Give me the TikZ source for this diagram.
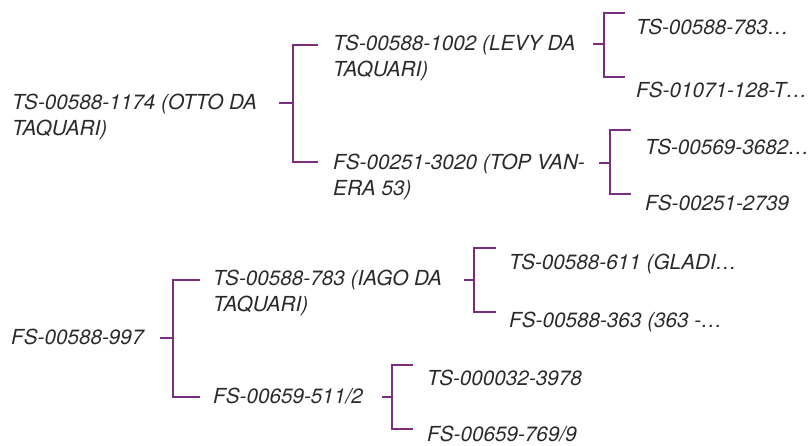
\documentclass[tikz,border=0pt]{standalone}
\usepackage{fontspec}
\setmainfont{TeX Gyre Heros}
\definecolor{brk}{HTML}{7B2D80}
\definecolor{txt}{HTML}{2A2A2A}
\tikzset{
  lbl/.style={font=\fontsize{20.7}{26}\selectfont\itshape, text=txt, inner sep=0pt, anchor=base west, align=left},
  brkline/.style={draw=brk, line width=2.7pt, line cap=butt, line join=miter}
}
\begin{document}
\begin{tikzpicture}[x=1pt,y=-1pt]
\useasboundingbox (0,0) rectangle (812,445);
% ---- tree 1 ----
\node[lbl] (r1) at (12,135.5) {TS-00588-1174 (OTTO DA\\TAQUARI)};
\node[lbl] (a1) at (333,76.5) {TS-00588-1002 (LEVY DA\\TAQUARI)};
\node[lbl] (a2) at (333,195.5) {FS-00251-3020 (TOP VAN-\\ERA 53)};
\node[lbl] (b1) at (636,34.5) {TS-00588-783\ldots};
\node[lbl] (b2) at (636,97.5) {FS-01071-128-T\ldots};
\node[lbl] (b3) at (645,154.5) {TS-00569-3682\ldots};
\node[lbl] (b4) at (645,210.5) {FS-00251-2739};
% ---- tree 2 ----
\node[lbl] (r2) at (11,344.5) {FS-00588-997};
\node[lbl] (c1) at (213,311.5) {TS-00588-783 (IAGO DA\\TAQUARI)};
\node[lbl] (c2) at (213,403.5) {FS-00659-511/2};
\node[lbl] (d1) at (509,269.5) {TS-00588-611 (GLADI\ldots};
\node[lbl] (d2) at (509,327.5) {FS-00588-363 (363 -\ldots};
\node[lbl] (d3) at (427,385.5) {TS-000032-3978};
\node[lbl] (d4) at (427,441.5) {FS-00659-769/9};
% ---- bracket coordinates ----
% B1
\coordinate (s1a) at (279,103); \coordinate (s1b) at (293,103);
\coordinate (t1a) at (318,45); \coordinate (t1b) at (318,162);
% B2
\coordinate (s2a) at (593,44); \coordinate (s2b) at (604,44);
\coordinate (t2a) at (625,13); \coordinate (t2b) at (625,77);
% B3
\coordinate (s3a) at (599,163); \coordinate (s3b) at (610,163);
\coordinate (t3a) at (631,130); \coordinate (t3b) at (631,194);
% B4
\coordinate (s4a) at (160,338); \coordinate (s4b) at (173,338);
\coordinate (t4a) at (200,280); \coordinate (t4b) at (200,397);
% B5
\coordinate (s5a) at (464,280); \coordinate (s5b) at (474,280);
\coordinate (t5a) at (496,248); \coordinate (t5b) at (496,312);
% B6
\coordinate (s6a) at (382,397); \coordinate (s6b) at (392,397);
\coordinate (t6a) at (413,365); \coordinate (t6b) at (413,429);
% ---- brackets ----
\foreach \i in {1,...,6}{
  \draw[brkline] (s\i a) -- (s\i b);
  \draw[brkline] (t\i a) -| (s\i b) |- (t\i b);
}
\end{tikzpicture}
\end{document}
